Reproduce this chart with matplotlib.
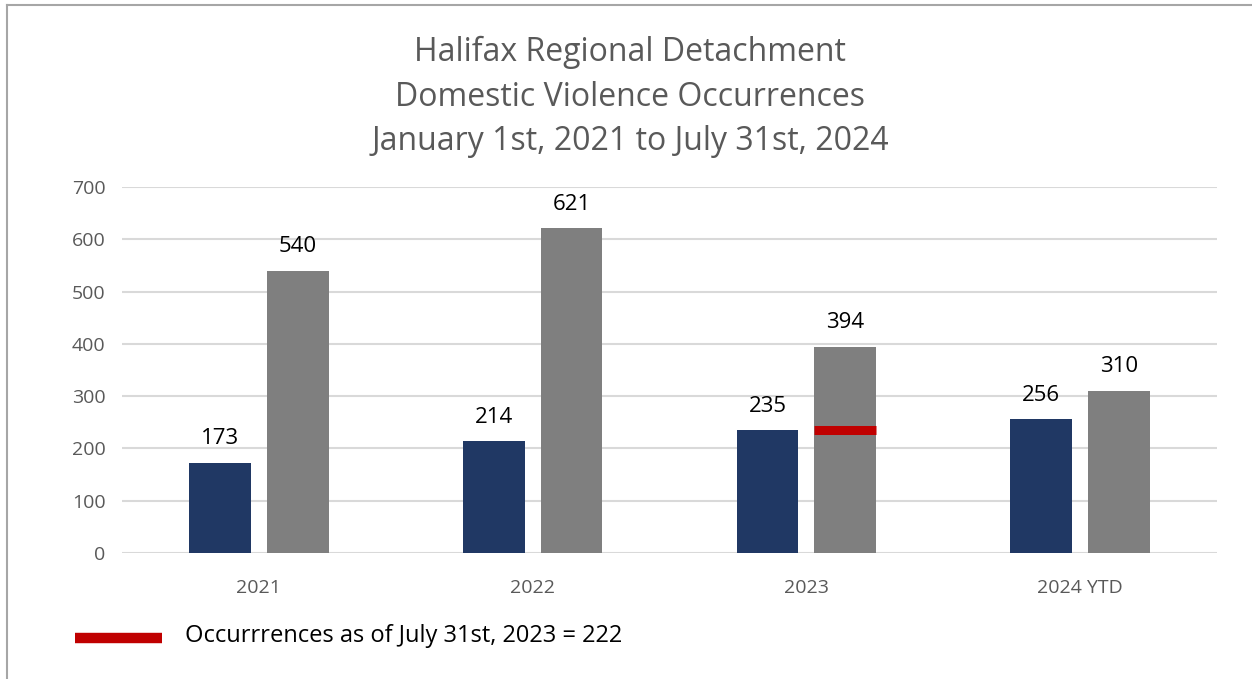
import matplotlib
matplotlib.use('Agg')
import matplotlib.pyplot as plt
import numpy as np
from matplotlib.lines import Line2D

# ---------------------------------------------------------------------------
# Data
# ---------------------------------------------------------------------------

categories = ['2021', '2022', '2023', '2024 YTD']
ytd_counts = [173, 214, 235, 256]      # navy bars
full_counts = [540, 621, 394, 310]     # grey bars
marker_year = 2                        # index of 2023
marker_level = 235                     # where the red mark sits on the bar
marker_label = 'Occurrrences as of July 31st, 2023 = 222'

title_lines = [
    'Halifax Regional Detachment',
    'Domestic Violence Occurrences',
    'January 1st, 2021 to July 31st, 2024',
]

NAVY = '#203864'
GREY = '#7F7F7F'
RED = '#C00000'
TEXT_GREY = '#595959'

plt.rcParams['font.family'] = ['Open Sans', 'DejaVu Sans']

fig = plt.figure(figsize=(12.52, 6.79), dpi=100)
W, H = 1252, 679

# frame of the original chart box (only top and left are visible)
fig.add_artist(Line2D([7 / W, 7 / W], [0, 1 - 5 / H], color='#A6A6A6', lw=1.5))
fig.add_artist(Line2D([7 / W, 1], [1 - 5 / H, 1 - 5 / H], color='#A6A6A6', lw=1.5))

ax = fig.add_axes([122 / W, 1 - 553 / H, (1217 - 122) / W, (553 - 187) / H])

x = np.arange(len(categories))
width = 0.226
off = 0.142
b1 = ax.bar(x - off, ytd_counts, width, color=NAVY, zorder=3)
b2 = ax.bar(x + off, full_counts, width, color=GREY, zorder=3)

for bars, vals in [(b1, ytd_counts), (b2, full_counts)]:
    for rect, v in zip(bars, vals):
        ax.text(rect.get_x() + rect.get_width() / 2, v + 26, str(v),
                ha='center', va='bottom', fontsize=16, color='black')

# red mark on the 2023 bar
ax.plot([marker_year + off - width / 2, marker_year + off + width / 2],
        [marker_level, marker_level], color=RED, lw=6.5, zorder=4,
        solid_capstyle='butt')

ax.set_xlim(-0.5, len(categories) - 0.5)
ax.set_ylim(0, 700)
ax.set_yticks(range(0, 701, 100))
ax.set_xticks(x)
ax.set_xticklabels(categories)
ax.tick_params(axis='both', length=0, labelsize=14, colors=TEXT_GREY)
ax.tick_params(axis='x', pad=19)
ax.tick_params(axis='y', pad=12)
ax.grid(axis='y', color='#D9D9D9', lw=1.5, zorder=0)
for s in ax.spines.values():
    s.set_visible(False)

for i, line in enumerate(title_lines):
    fig.text(630 / W, 1 - (52 + i * 45) / H, line, ha='center', va='center',
             fontsize=23, color=TEXT_GREY)

# legend
fig.add_artist(Line2D([75 / W, 162 / W], [1 - 638 / H, 1 - 638 / H],
                      color=RED, lw=7.5, solid_capstyle='butt'))
fig.text(185 / W, 1 - 636 / H, marker_label, ha='left', va='center',
         fontsize=17, color='black')

plt.savefig('out.png', dpi=100)
